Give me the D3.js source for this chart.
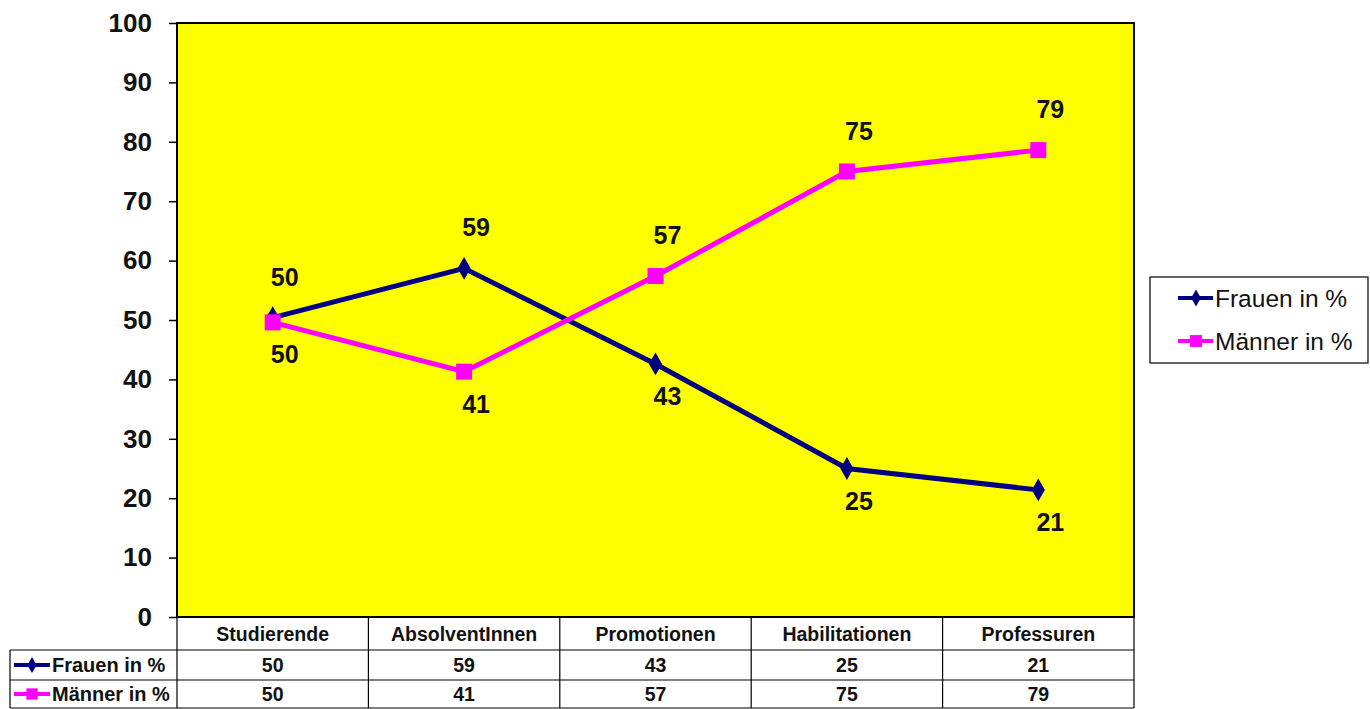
<!DOCTYPE html>
<html>
<head>
<meta charset="utf-8">
<script src="https://cdn.jsdelivr.net/npm/d3@7"></script>
<style>
  body { margin: 0; background: #fff; }
  svg { display: block; font-family: Arial, "Liberation Sans", sans-serif; }
</style>
</head>
<body>
<div id="chart"></div>
<script>
// chart data
var categories = ["Studierende", "AbsolventInnen", "Promotionen", "Habilitationen", "Professuren"];
var frauen = [50.4, 58.7, 42.6, 25.0, 21.4];
var maenner = [49.6, 41.3, 57.4, 75.0, 78.6];
var seriesNames = ["Frauen in %", "Männer in %"];
var yTicks = [0, 10, 20, 30, 40, 50, 60, 70, 80, 90, 100];

(function () {
    'use strict';

    var W = 1370, H = 709;
    var plotL = 177, plotR = 1134, plotT = 23, plotB = 617;
    var navy = "#000080", pink = "#ff00ff";

    var svg = d3.select("#chart").append("svg")
        .attr("width", W)
        .attr("height", H);

    var x = d3.scaleBand().domain(categories).range([plotL, plotR]),
        y = d3.scaleLinear().domain([0, 100]).range([plotB, plotT]);

    function cx(i) { return x(categories[i]) + x.bandwidth() / 2; }

    var series = [
        { name: seriesNames[0], values: frauen, color: navy, symbol: d3.symbolDiamond, size: 150 },
        { name: seriesNames[1], values: maenner, color: pink, symbol: d3.symbolSquare, size: 256 }
    ];

    // plot area
    svg.append("rect")
        .attr("x", plotL).attr("y", plotT)
        .attr("width", plotR - plotL).attr("height", plotB - plotT)
        .attr("fill", "#ffff00")
        .attr("stroke", "#000").attr("stroke-width", 2);

    // y axis
    var yAxis = svg.append("g")
        .attr("transform", "translate(" + plotL + ",0)")
        .call(d3.axisLeft(y).tickValues(yTicks).tickSize(8).tickPadding(17).tickSizeOuter(0));
    yAxis.select(".domain").remove();
    yAxis.selectAll("line").attr("stroke", "#000").attr("stroke-width", 1.5);
    yAxis.selectAll("text")
        .attr("fill", "#111")
        .style("font-size", "26px")
        .style("font-weight", "bold");

    // lines and markers
    var line = d3.line()
        .x(function (d, i) { return cx(i); })
        .y(function (d) { return y(d); });

    series.forEach(function (s) {
        svg.append("path")
            .datum(s.values)
            .attr("d", line)
            .attr("fill", "none")
            .attr("stroke", s.color)
            .attr("stroke-width", 5);

        svg.selectAll(null)
            .data(s.values)
            .enter().append("path")
            .attr("d", d3.symbol().type(s.symbol).size(s.size))
            .attr("transform", function (d, i) { return "translate(" + cx(i) + "," + y(d) + ")"; })
            .attr("fill", s.color);
    });

    // data labels: above for the larger value, below for the smaller
    series.forEach(function (s, k) {
        var other = series[1 - k].values;
        svg.selectAll(null)
            .data(s.values)
            .enter().append("text")
            .attr("x", function (d, i) { return cx(i) + 12; })
            .attr("y", function (d, i) { return y(d) + (d >= other[i] ? -41 : 32); })
            .attr("dy", "0.36em")
            .attr("text-anchor", "middle")
            .style("font-size", "25px")
            .style("font-weight", "bold")
            .attr("fill", "#111")
            .text(function (d) { return Math.round(d); });
    });

    // data table
    var rowY = [plotB, 650, 680, 708];
    var tLeft = 10;
    var table = svg.append("g");

    table.selectAll(".hline")
        .data(rowY.slice(1))
        .enter().append("line")
        .attr("x1", tLeft).attr("x2", plotR)
        .attr("y1", function (d) { return d; }).attr("y2", function (d) { return d; })
        .attr("stroke", "#000").attr("stroke-width", 1.2);

    var vx = categories.map(function (c) { return x(c); }).concat([plotR]);
    table.selectAll(".vline")
        .data(vx)
        .enter().append("line")
        .attr("x1", function (d) { return d; }).attr("x2", function (d) { return d; })
        .attr("y1", plotB).attr("y2", rowY[3])
        .attr("stroke", "#000").attr("stroke-width", 1.2);

    table.append("line")
        .attr("x1", tLeft).attr("x2", tLeft)
        .attr("y1", rowY[1]).attr("y2", rowY[3])
        .attr("stroke", "#000").attr("stroke-width", 1.2);

    table.selectAll(".cat")
        .data(categories)
        .enter().append("text")
        .attr("x", function (d) { return x(d) + x.bandwidth() / 2; })
        .attr("y", (rowY[0] + rowY[1]) / 2)
        .attr("dy", "0.36em")
        .attr("text-anchor", "middle")
        .style("font-size", "19.5px")
        .style("font-weight", "bold")
        .attr("fill", "#111")
        .text(function (d) { return d; });

    series.forEach(function (s, k) {
        var cy = (rowY[k + 1] + rowY[k + 2]) / 2;
        table.selectAll(null)
            .data(s.values)
            .enter().append("text")
            .attr("x", function (d, i) { return cx(i); })
            .attr("y", cy)
            .attr("dy", "0.36em")
            .attr("text-anchor", "middle")
            .style("font-size", "19.5px")
            .style("font-weight", "bold")
            .attr("fill", "#111")
            .text(function (d) { return Math.round(d); });

        table.append("line")
            .attr("x1", 14).attr("x2", 50)
            .attr("y1", cy).attr("y2", cy)
            .attr("stroke", s.color).attr("stroke-width", 4);
        table.append("path")
            .attr("d", d3.symbol().type(s.symbol).size(s.size * 0.5))
            .attr("transform", "translate(32," + cy + ")")
            .attr("fill", s.color);
        table.append("text")
            .attr("x", 52).attr("y", cy)
            .attr("dy", "0.36em")
            .style("font-size", "20px")
            .style("font-weight", "bold")
            .attr("fill", "#111")
            .text(s.name);
    });

    // legend
    var legend = svg.append("g");
    legend.append("rect")
        .attr("x", 1150).attr("y", 277)
        .attr("width", 218).attr("height", 86)
        .attr("fill", "#fff")
        .attr("stroke", "#000").attr("stroke-width", 1.2);

    series.forEach(function (s, k) {
        var ly = 298 + k * 43;
        legend.append("line")
            .attr("x1", 1178).attr("x2", 1213)
            .attr("y1", ly).attr("y2", ly)
            .attr("stroke", s.color).attr("stroke-width", 4);
        legend.append("path")
            .attr("d", d3.symbol().type(s.symbol).size(s.size * 0.55))
            .attr("transform", "translate(1196," + ly + ")")
            .attr("fill", s.color);
        legend.append("text")
            .attr("x", 1215).attr("y", ly)
            .attr("dy", "0.36em")
            .style("font-size", "24.5px")
            .attr("fill", "#111")
            .text(s.name);
    });
})();
</script>
</body>
</html>
